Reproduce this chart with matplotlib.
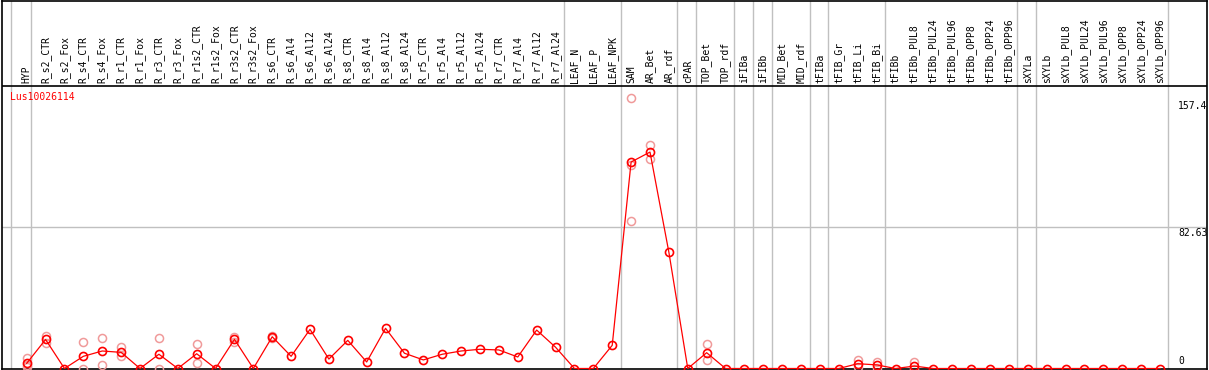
import numpy as np
import matplotlib
matplotlib.use("Agg")
import matplotlib.pyplot as plt

# sample names along the x axis
samples = ["HYP",
           "R_s2_CTR", "R_s2_Fox", "R_s4_CTR", "R_s4_Fox", "R_r1_CTR", "R_r1_Fox",
           "R_r3_CTR", "R_r3_Fox", "R_r1s2_CTR", "R_r1s2_Fox", "R_r3s2_CTR", "R_r3s2_Fox",
           "R_s6_CTR", "R_s6_Al4", "R_s6_Al12", "R_s6_Al24",
           "R_s8_CTR", "R_s8_Al4", "R_s8_Al12", "R_s8_Al24",
           "R_r5_CTR", "R_r5_Al4", "R_r5_Al12", "R_r5_Al24",
           "R_r7_CTR", "R_r7_Al4", "R_r7_Al12", "R_r7_Al24",
           "LEAF_N", "LEAF_P", "LEAF_NPK", "SAM", "AR_Bet", "AR_rdf", "cPAR",
           "TOP_Bet", "TOP_rdf", "iFIBa", "iFIBb", "MID_Bet", "MID_rdf",
           "tFIBa", "tFIB_Gr", "tFIB_Li", "tFIB_Bi", "tFIBb",
           "tFIBb_PUL8", "tFIBb_PUL24", "tFIBb_PUL96", "tFIBb_OPP8", "tFIBb_OPP24", "tFIBb_OPP96",
           "sXYLa", "sXYLb",
           "sXYLb_PUL8", "sXYLb_PUL24", "sXYLb_PUL96", "sXYLb_OPP8", "sXYLb_OPP24", "sXYLb_OPP96"]

# mean expression
mean_expr = [3.0,
             16.9, 0, 7.1, 10.2, 9.4, 0, 8.3, 0, 8.6, 0, 17.0, 0,
             18.5, 7.1, 22.8, 5.5, 16.4, 3.8, 23.4, 8.9,
             5.0, 8.3, 10.2, 11.2, 10.8, 6.7, 22.4, 12.4,
             0, 0, 13.5, 120.3, 126.1, 67.7, 0,
             9.2, 0, 0, 0, 0, 0,
             0, 0, 2.8, 2.1, 0,
             1.4, 0, 0, 0, 0, 0,
             0, 0, 0, 0, 0, 0, 0, 0]

# replicate values (nan = hidden under the mean marker)
nan = np.nan
rep_a = [6.0, 18.9, nan, 15.2, 17.6, 12.3, nan, 17.6, nan, 14.1, nan, 18.5, nan,
         19.0] + [nan] * 18 + [157.4, 130.0, nan, nan, 14.1] + [nan] * 7 + \
        [5.0, 3.8, nan, 3.6] + [nan] * 13
rep_b = [1.0, 15.0, nan, 0, 1.9, 7.1, nan, 0, nan, 3.0, nan, 15.5, nan,
         18.0] + [nan] * 18 + [85.8, 121.9, nan, nan, 5.0] + [nan] * 7 + \
        [0.6, 0.4, nan, 0] + [nan] * 13
rep_c = [2.0] + [nan] * 31 + [118.4] + [nan] * 28

gene = "Lus10026114"
max_val = 157.4
mid_val = 82.63

# group separators: after these sample indices
group_ends = [28, 31, 34, 35, 37, 38, 39, 41, 42, 45, 52, 53, 60]

x = np.arange(len(samples))
grey = "#c0c0c0"
font = dict(family="DejaVu Sans Mono", size=7)

fig = plt.figure(figsize=(12.09, 3.70), dpi=100)
ax = fig.add_axes([2 / 1209, 1.5 / 370, 1205 / 1209, 368 / 370])
ax.set_xlim(-1.307, 62.49)
ax.set_ylim(0, 214.4)
ax.set_xticks([])
ax.set_yticks([])
for s in ax.spines.values():
    s.set_color("black")
    s.set_linewidth(1.2)

# grid lines
for g in [-0.85, 0.21] + [e + 0.45 for e in group_ends]:
    ax.axvline(g, color=grey, lw=1, zorder=1)
ax.axhline(mid_val, color=grey, lw=1, zorder=1)
header_y = 164.86
ax.axhline(header_y, color="black", lw=1.2, zorder=2)

# replicates
for rep in (rep_a, rep_b, rep_c):
    ax.plot(x, rep, ls="none", marker="o", ms=5.8, mfc="none",
            mec="#f09a9a", mew=1.1, zorder=3)

# mean line
ax.plot(x, mean_expr, color="red", lw=0.9, marker="o", ms=5.8, mfc="none",
        mec="red", mew=1.2, zorder=4)

# sample labels in header
for xi, name in zip(x, samples):
    ax.text(xi, header_y + 1.4, name, rotation=90, ha="center", va="bottom",
            color="black", **font)

ax.text(-0.88, 158.2, gene, color="red", ha="left", va="center", **font)

ax.text(60.95, max_val - 1.5, "157.4", ha="left", va="top", **font)
ax.text(60.95, mid_val - 1.0, "82.63", ha="left", va="top", **font)
ax.text(61.0, 1.5, "0", ha="left", va="bottom", **font)

fig.savefig("out.png", dpi=100)
